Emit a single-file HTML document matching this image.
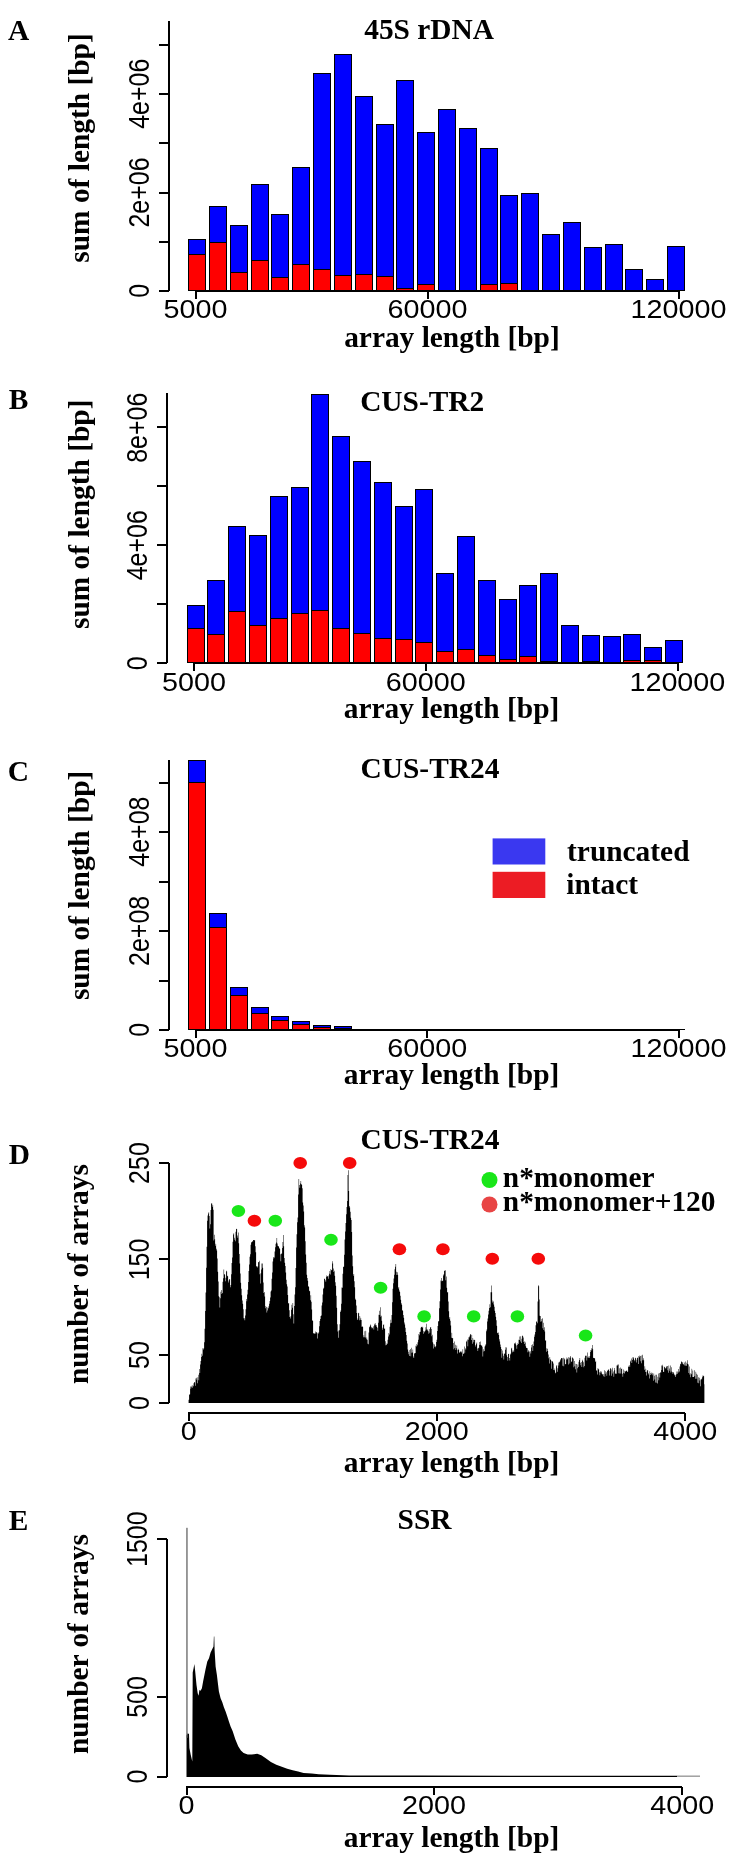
<!DOCTYPE html><html><head><meta charset="utf-8"><style>
html,body{margin:0;padding:0;background:#fff;}svg{display:block;will-change:transform;}
text.s{font-family:"Liberation Serif",serif;font-weight:bold;fill:#000;}
text.n{font-family:"Liberation Sans",sans-serif;font-size:25px;fill:#000;}
line{stroke:#000;stroke-width:2;shape-rendering:crispEdges;}
line.bl{stroke-width:1.1;}
rect.bar{stroke:#000;stroke-width:1;shape-rendering:crispEdges;}
</style></head><body>
<svg width="734" height="1864" viewBox="0 0 734 1864">
<rect x="0" y="0" width="734" height="1864" fill="#fff"/>
<text class="s" style="font-size:29.4px" x="7.9" y="40.3">A</text>
<text class="s" style="font-size:29.4px" x="364.2" y="39.2">45S rDNA</text>
<text class="s" style="font-size:29.4px" transform="translate(88.9,262.73) rotate(-90)">sum of length [bp]</text>
<rect x="188" y="239" width="18" height="52" fill="#000"/>
<rect x="189" y="240" width="16" height="14" fill="#0000ff"/>
<rect x="189" y="255" width="16" height="35" fill="#ff0000"/>
<rect x="209" y="206" width="18" height="85" fill="#000"/>
<rect x="210" y="207" width="16" height="35" fill="#0000ff"/>
<rect x="210" y="243" width="16" height="47" fill="#ff0000"/>
<rect x="230" y="225" width="18" height="66" fill="#000"/>
<rect x="231" y="226" width="16" height="46" fill="#0000ff"/>
<rect x="231" y="273" width="16" height="17" fill="#ff0000"/>
<rect x="251" y="184" width="18" height="107" fill="#000"/>
<rect x="252" y="185" width="16" height="75" fill="#0000ff"/>
<rect x="252" y="261" width="16" height="29" fill="#ff0000"/>
<rect x="271" y="214" width="18" height="77" fill="#000"/>
<rect x="272" y="215" width="16" height="62" fill="#0000ff"/>
<rect x="272" y="278" width="16" height="12" fill="#ff0000"/>
<rect x="292" y="167" width="18" height="124" fill="#000"/>
<rect x="293" y="168" width="16" height="96" fill="#0000ff"/>
<rect x="293" y="265" width="16" height="25" fill="#ff0000"/>
<rect x="313" y="73" width="18" height="218" fill="#000"/>
<rect x="314" y="74" width="16" height="195" fill="#0000ff"/>
<rect x="314" y="270" width="16" height="20" fill="#ff0000"/>
<rect x="334" y="54" width="18" height="237" fill="#000"/>
<rect x="335" y="55" width="16" height="220" fill="#0000ff"/>
<rect x="335" y="276" width="16" height="14" fill="#ff0000"/>
<rect x="355" y="96" width="18" height="195" fill="#000"/>
<rect x="356" y="97" width="16" height="177" fill="#0000ff"/>
<rect x="356" y="275" width="16" height="15" fill="#ff0000"/>
<rect x="376" y="124" width="18" height="167" fill="#000"/>
<rect x="377" y="125" width="16" height="151" fill="#0000ff"/>
<rect x="377" y="277" width="16" height="13" fill="#ff0000"/>
<rect x="396" y="80" width="18" height="211" fill="#000"/>
<rect x="397" y="81" width="16" height="207" fill="#0000ff"/>
<rect x="397" y="289" width="16" height="1" fill="#ff0000"/>
<rect x="417" y="132" width="18" height="159" fill="#000"/>
<rect x="418" y="133" width="16" height="151" fill="#0000ff"/>
<rect x="418" y="285" width="16" height="5" fill="#ff0000"/>
<rect x="438" y="109" width="18" height="182" fill="#000"/>
<rect x="439" y="110" width="16" height="180" fill="#0000ff"/>
<rect x="459" y="128" width="18" height="163" fill="#000"/>
<rect x="460" y="129" width="16" height="161" fill="#0000ff"/>
<rect x="480" y="148" width="18" height="143" fill="#000"/>
<rect x="481" y="149" width="16" height="135" fill="#0000ff"/>
<rect x="481" y="285" width="16" height="5" fill="#ff0000"/>
<rect x="500" y="195" width="18" height="96" fill="#000"/>
<rect x="501" y="196" width="16" height="87" fill="#0000ff"/>
<rect x="501" y="284" width="16" height="6" fill="#ff0000"/>
<rect x="521" y="193" width="18" height="98" fill="#000"/>
<rect x="522" y="194" width="16" height="96" fill="#0000ff"/>
<rect x="542" y="234" width="18" height="57" fill="#000"/>
<rect x="543" y="235" width="16" height="55" fill="#0000ff"/>
<rect x="563" y="222" width="18" height="69" fill="#000"/>
<rect x="564" y="223" width="16" height="67" fill="#0000ff"/>
<rect x="584" y="247" width="18" height="44" fill="#000"/>
<rect x="585" y="248" width="16" height="42" fill="#0000ff"/>
<rect x="605" y="244" width="18" height="47" fill="#000"/>
<rect x="606" y="245" width="16" height="45" fill="#0000ff"/>
<rect x="625" y="269" width="18" height="22" fill="#000"/>
<rect x="626" y="270" width="16" height="20" fill="#0000ff"/>
<rect x="646" y="279" width="18" height="12" fill="#000"/>
<rect x="647" y="280" width="16" height="10" fill="#0000ff"/>
<rect x="667" y="246" width="18" height="45" fill="#000"/>
<rect x="668" y="247" width="16" height="43" fill="#0000ff"/>
<line x1="169" y1="20.6" x2="169" y2="291" />
<line x1="159" y1="291" x2="169" y2="291" />
<line x1="159" y1="241.8" x2="169" y2="241.8" />
<line x1="159" y1="192.6" x2="169" y2="192.6" />
<line x1="159" y1="143.4" x2="169" y2="143.4" />
<line x1="159" y1="94.2" x2="169" y2="94.2" />
<line x1="159" y1="45" x2="169" y2="45" />
<text class="n" transform="translate(148.8,297.78) scale(1.15,1) rotate(-90)">0</text>
<text class="n" transform="translate(148.8,227.57) scale(1.15,1) rotate(-90)">2e+06</text>
<text class="n" transform="translate(148.8,128.82) scale(1.15,1) rotate(-90)">4e+06</text>
<rect x="188" y="290" width="497" height="1" fill="#000"/>
<line x1="195.6" y1="291" x2="679" y2="291" />
<line x1="195.6" y1="291" x2="195.6" y2="299" />
<line x1="427.6" y1="291" x2="427.6" y2="299" />
<line x1="679" y1="291" x2="679" y2="299" />
<text class="n" transform="translate(163.6,318.4) scale(1.15,1)">5000</text>
<text class="n" transform="translate(387.47,318.4) scale(1.15,1)">60000</text>
<text class="n" transform="translate(630.5,318.4) scale(1.15,1)">120000</text>
<text class="s" style="font-size:29.4px" x="344.15" y="346.6">array length [bp]</text>
<text class="s" style="font-size:29.4px" x="8.8" y="409">B</text>
<text class="s" style="font-size:29.4px" x="360.15" y="410.5">CUS-TR2</text>
<text class="s" style="font-size:29.4px" transform="translate(89,629.02) rotate(-90)">sum of length [bp]</text>
<rect x="187" y="605" width="18" height="58" fill="#000"/>
<rect x="188" y="606" width="16" height="22" fill="#0000ff"/>
<rect x="188" y="629" width="16" height="33" fill="#ff0000"/>
<rect x="207" y="580" width="18" height="83" fill="#000"/>
<rect x="208" y="581" width="16" height="53" fill="#0000ff"/>
<rect x="208" y="635" width="16" height="27" fill="#ff0000"/>
<rect x="228" y="526" width="18" height="137" fill="#000"/>
<rect x="229" y="527" width="16" height="84" fill="#0000ff"/>
<rect x="229" y="612" width="16" height="50" fill="#ff0000"/>
<rect x="249" y="535" width="18" height="128" fill="#000"/>
<rect x="250" y="536" width="16" height="89" fill="#0000ff"/>
<rect x="250" y="626" width="16" height="36" fill="#ff0000"/>
<rect x="270" y="496" width="18" height="167" fill="#000"/>
<rect x="271" y="497" width="16" height="121" fill="#0000ff"/>
<rect x="271" y="619" width="16" height="43" fill="#ff0000"/>
<rect x="291" y="487" width="18" height="176" fill="#000"/>
<rect x="292" y="488" width="16" height="125" fill="#0000ff"/>
<rect x="292" y="614" width="16" height="48" fill="#ff0000"/>
<rect x="311" y="394" width="18" height="269" fill="#000"/>
<rect x="312" y="395" width="16" height="215" fill="#0000ff"/>
<rect x="312" y="611" width="16" height="51" fill="#ff0000"/>
<rect x="332" y="436" width="18" height="227" fill="#000"/>
<rect x="333" y="437" width="16" height="191" fill="#0000ff"/>
<rect x="333" y="629" width="16" height="33" fill="#ff0000"/>
<rect x="353" y="461" width="18" height="202" fill="#000"/>
<rect x="354" y="462" width="16" height="171" fill="#0000ff"/>
<rect x="354" y="634" width="16" height="28" fill="#ff0000"/>
<rect x="374" y="482" width="18" height="181" fill="#000"/>
<rect x="375" y="483" width="16" height="155" fill="#0000ff"/>
<rect x="375" y="639" width="16" height="23" fill="#ff0000"/>
<rect x="395" y="506" width="18" height="157" fill="#000"/>
<rect x="396" y="507" width="16" height="132" fill="#0000ff"/>
<rect x="396" y="640" width="16" height="22" fill="#ff0000"/>
<rect x="415" y="489" width="18" height="174" fill="#000"/>
<rect x="416" y="490" width="16" height="152" fill="#0000ff"/>
<rect x="416" y="643" width="16" height="19" fill="#ff0000"/>
<rect x="436" y="573" width="18" height="90" fill="#000"/>
<rect x="437" y="574" width="16" height="77" fill="#0000ff"/>
<rect x="437" y="652" width="16" height="10" fill="#ff0000"/>
<rect x="457" y="536" width="18" height="127" fill="#000"/>
<rect x="458" y="537" width="16" height="112" fill="#0000ff"/>
<rect x="458" y="650" width="16" height="12" fill="#ff0000"/>
<rect x="478" y="580" width="18" height="83" fill="#000"/>
<rect x="479" y="581" width="16" height="74" fill="#0000ff"/>
<rect x="479" y="656" width="16" height="6" fill="#ff0000"/>
<rect x="499" y="599" width="18" height="64" fill="#000"/>
<rect x="500" y="600" width="16" height="59" fill="#0000ff"/>
<rect x="500" y="660" width="16" height="2" fill="#ff0000"/>
<rect x="519" y="585" width="18" height="78" fill="#000"/>
<rect x="520" y="586" width="16" height="70" fill="#0000ff"/>
<rect x="520" y="657" width="16" height="5" fill="#ff0000"/>
<rect x="540" y="573" width="18" height="90" fill="#000"/>
<rect x="541" y="574" width="16" height="87" fill="#0000ff"/>
<rect x="561" y="625" width="18" height="38" fill="#000"/>
<rect x="562" y="626" width="16" height="36" fill="#0000ff"/>
<rect x="582" y="635" width="18" height="28" fill="#000"/>
<rect x="583" y="636" width="16" height="25" fill="#0000ff"/>
<rect x="603" y="636" width="18" height="27" fill="#000"/>
<rect x="604" y="637" width="16" height="25" fill="#0000ff"/>
<rect x="623" y="634" width="18" height="29" fill="#000"/>
<rect x="624" y="635" width="16" height="25" fill="#0000ff"/>
<rect x="624" y="661" width="16" height="1" fill="#ff0000"/>
<rect x="644" y="647" width="18" height="16" fill="#000"/>
<rect x="645" y="648" width="16" height="12" fill="#0000ff"/>
<rect x="645" y="661" width="16" height="1" fill="#ff0000"/>
<rect x="665" y="640" width="18" height="23" fill="#000"/>
<rect x="666" y="641" width="16" height="21" fill="#0000ff"/>
<line x1="167" y1="393.2" x2="167" y2="663" />
<line x1="157" y1="663" x2="167" y2="663" />
<line x1="157" y1="604.1" x2="167" y2="604.1" />
<line x1="157" y1="545.2" x2="167" y2="545.2" />
<line x1="157" y1="486.3" x2="167" y2="486.3" />
<line x1="157" y1="427.4" x2="167" y2="427.4" />
<text class="n" transform="translate(146.8,670.27) scale(1.15,1) rotate(-90)">0</text>
<text class="n" transform="translate(146.8,580.33) scale(1.15,1) rotate(-90)">4e+06</text>
<text class="n" transform="translate(146.8,462.8) scale(1.15,1) rotate(-90)">8e+06</text>
<rect x="187" y="662" width="496" height="1" fill="#000"/>
<line x1="194.1" y1="663" x2="677.9" y2="663" />
<line x1="194.1" y1="663" x2="194.1" y2="671" />
<line x1="426" y1="663" x2="426" y2="671" />
<line x1="677.9" y1="663" x2="677.9" y2="671" />
<text class="n" transform="translate(162.1,690.5) scale(1.15,1)">5000</text>
<text class="n" transform="translate(385.87,690.5) scale(1.15,1)">60000</text>
<text class="n" transform="translate(629.4,690.5) scale(1.15,1)">120000</text>
<text class="s" style="font-size:29.4px" x="343.75" y="717.9">array length [bp]</text>
<text class="s" style="font-size:29.4px" x="7.85" y="781.3">C</text>
<text class="s" style="font-size:29.4px" x="360.55" y="777.6">CUS-TR24</text>
<text class="s" style="font-size:29.4px" transform="translate(89,1000.12) rotate(-90)">sum of length [bp]</text>
<rect x="188" y="760" width="18" height="270" fill="#000"/>
<rect x="189" y="761" width="16" height="21" fill="#0000ff"/>
<rect x="189" y="783" width="16" height="246" fill="#ff0000"/>
<rect x="209" y="913" width="18" height="117" fill="#000"/>
<rect x="210" y="914" width="16" height="13" fill="#0000ff"/>
<rect x="210" y="928" width="16" height="101" fill="#ff0000"/>
<rect x="230" y="987" width="18" height="43" fill="#000"/>
<rect x="231" y="988" width="16" height="7" fill="#0000ff"/>
<rect x="231" y="996" width="16" height="33" fill="#ff0000"/>
<rect x="251" y="1007" width="18" height="23" fill="#000"/>
<rect x="252" y="1008" width="16" height="5" fill="#0000ff"/>
<rect x="252" y="1014" width="16" height="15" fill="#ff0000"/>
<rect x="271" y="1016" width="18" height="14" fill="#000"/>
<rect x="272" y="1017" width="16" height="3" fill="#0000ff"/>
<rect x="272" y="1021" width="16" height="8" fill="#ff0000"/>
<rect x="292" y="1021" width="18" height="9" fill="#000"/>
<rect x="293" y="1022" width="16" height="2" fill="#0000ff"/>
<rect x="293" y="1025" width="16" height="4" fill="#ff0000"/>
<rect x="313" y="1025" width="18" height="5" fill="#000"/>
<rect x="314" y="1026" width="16" height="1" fill="#0000ff"/>
<rect x="314" y="1028" width="16" height="1" fill="#ff0000"/>
<rect x="334" y="1026" width="18" height="4" fill="#000"/>
<rect x="335" y="1027" width="16" height="1" fill="#0000ff"/>
<line x1="169" y1="759.5" x2="169" y2="1030" />
<line x1="159" y1="1030" x2="169" y2="1030" />
<line x1="159" y1="980.55" x2="169" y2="980.55" />
<line x1="159" y1="931.1" x2="169" y2="931.1" />
<line x1="159" y1="881.65" x2="169" y2="881.65" />
<line x1="159" y1="832.2" x2="169" y2="832.2" />
<line x1="159" y1="782.75" x2="169" y2="782.75" />
<text class="n" transform="translate(148.8,1036.67) scale(1.15,1) rotate(-90)">0</text>
<text class="n" transform="translate(148.8,965.98) scale(1.15,1) rotate(-90)">2e+08</text>
<text class="n" transform="translate(148.8,866.73) scale(1.15,1) rotate(-90)">4e+08</text>
<rect x="188" y="1029" width="497" height="1" fill="#000"/>
<line x1="195.6" y1="1030" x2="679" y2="1030" />
<line x1="195.6" y1="1030" x2="195.6" y2="1038" />
<line x1="427.4" y1="1030" x2="427.4" y2="1038" />
<line x1="679" y1="1030" x2="679" y2="1038" />
<text class="n" transform="translate(163.6,1056.6) scale(1.15,1)">5000</text>
<text class="n" transform="translate(387.26,1056.6) scale(1.15,1)">60000</text>
<text class="n" transform="translate(630.5,1056.6) scale(1.15,1)">120000</text>
<text class="s" style="font-size:29.4px" x="343.75" y="1083.9">array length [bp]</text>
<rect x="492.6" y="838.4" width="52.7" height="26.1" fill="#3a38f0"/>
<rect x="492.6" y="871.8" width="52.7" height="26.2" fill="#ec1c24"/>
<text class="s" style="font-size:29.4px" x="567.05" y="860.9">truncated</text>
<text class="s" style="font-size:29.4px" x="566.25" y="893.8">intact</text>
<text class="s" style="font-size:29.4px" x="8.8" y="1163.6">D</text>
<text class="s" style="font-size:29.4px" x="360.55" y="1148.7">CUS-TR24</text>
<text class="s" style="font-size:29.4px" transform="translate(87.9,1384) rotate(-90)">number of arrays</text>
<path d="M188.6,1399.76h0.5V1403h-0.5ZM189.1,1394.86h0.5V1403h-0.5ZM189.6,1394.3h0.5V1403h-0.5ZM190.1,1386.53h0.5V1403h-0.5ZM190.6,1388.82h0.5V1403h-0.5ZM191.1,1387.19h0.5V1403h-0.5ZM191.6,1385.76h0.5V1403h-0.5ZM192.1,1387.8h0.5V1403h-0.5ZM192.6,1385.25h0.5V1403h-0.5ZM193.1,1386.21h0.5V1403h-0.5ZM193.6,1383.31h0.5V1403h-0.5ZM194.1,1382.09h0.5V1403h-0.5ZM194.6,1382.39h0.5V1403h-0.5ZM195.1,1385.67h0.5V1403h-0.5ZM195.6,1378.41h0.5V1403h-0.5ZM196.1,1377.69h0.5V1403h-0.5ZM196.6,1379.78h0.5V1403h-0.5ZM197.1,1383.32h0.5V1403h-0.5ZM197.6,1377.24h0.5V1403h-0.5ZM198.1,1374.66h0.5V1403h-0.5ZM198.6,1380.31h0.5V1403h-0.5ZM199.1,1369.08h0.5V1403h-0.5ZM199.6,1373.03h0.5V1403h-0.5ZM200.1,1364.49h0.5V1403h-0.5ZM200.6,1361.09h0.5V1403h-0.5ZM201.1,1357.03h0.5V1403h-0.5ZM201.6,1353.76h0.5V1403h-0.5ZM202.1,1355.67h0.5V1403h-0.5ZM202.6,1348.3h0.5V1403h-0.5ZM203.1,1349.39h0.5V1403h-0.5ZM203.6,1348.35h0.5V1403h-0.5ZM204.1,1342.28h0.5V1403h-0.5ZM204.6,1328.73h0.5V1403h-0.5ZM205.1,1311.07h0.5V1403h-0.5ZM205.6,1292.47h0.5V1403h-0.5ZM206.1,1267.82h0.5V1403h-0.5ZM206.6,1246.77h0.5V1403h-0.5ZM207.1,1220.72h0.5V1403h-0.5ZM207.6,1215.59h0.5V1403h-0.5ZM208.1,1213.41h0.5V1403h-0.5ZM208.6,1212.18h0.5V1403h-0.5ZM209.1,1216.03h0.5V1403h-0.5ZM209.6,1228.4h0.5V1403h-0.5ZM210.1,1224.28h0.5V1403h-0.5ZM210.6,1209.92h0.5V1403h-0.5ZM211.1,1203.87h0.5V1403h-0.5ZM211.6,1202.88h0.5V1403h-0.5ZM212.1,1206.79h0.5V1403h-0.5ZM212.6,1204.69h0.5V1403h-0.5ZM213.1,1209.83h0.5V1403h-0.5ZM213.6,1240.38h0.5V1403h-0.5ZM214.1,1234.86h0.5V1403h-0.5ZM214.6,1239.31h0.5V1403h-0.5ZM215.1,1245.86h0.5V1403h-0.5ZM215.6,1243.77h0.5V1403h-0.5ZM216.1,1248.81h0.5V1403h-0.5ZM216.6,1250.43h0.5V1403h-0.5ZM217.1,1258.54h0.5V1403h-0.5ZM217.6,1271.78h0.5V1403h-0.5ZM218.1,1281.48h0.5V1403h-0.5ZM218.6,1296.15h0.5V1403h-0.5ZM219.1,1297.14h0.5V1403h-0.5ZM219.6,1307.57h0.5V1403h-0.5ZM220.1,1298.27h0.5V1403h-0.5ZM220.6,1291.77h0.5V1403h-0.5ZM221.1,1290.12h0.5V1403h-0.5ZM221.6,1294.1h0.5V1403h-0.5ZM222.1,1293.1h0.5V1403h-0.5ZM222.6,1281.67h0.5V1403h-0.5ZM223.1,1278.2h0.5V1403h-0.5ZM223.6,1269.52h0.5V1403h-0.5ZM224.1,1273.91h0.5V1403h-0.5ZM224.6,1274.75h0.5V1403h-0.5ZM225.1,1281.36h0.5V1403h-0.5ZM225.6,1277.64h0.5V1403h-0.5ZM226.1,1270.79h0.5V1403h-0.5ZM226.6,1271.4h0.5V1403h-0.5ZM227.1,1275.69h0.5V1403h-0.5ZM227.6,1276.17h0.5V1403h-0.5ZM228.1,1282.59h0.5V1403h-0.5ZM228.6,1280.42h0.5V1403h-0.5ZM229.1,1279.29h0.5V1403h-0.5ZM229.6,1279.19h0.5V1403h-0.5ZM230.1,1287.23h0.5V1403h-0.5ZM230.6,1285.07h0.5V1403h-0.5ZM231.1,1274.22h0.5V1403h-0.5ZM231.6,1263.05h0.5V1403h-0.5ZM232.1,1257.59h0.5V1403h-0.5ZM232.6,1241.81h0.5V1403h-0.5ZM233.1,1234.57h0.5V1403h-0.5ZM233.6,1233.32h0.5V1403h-0.5ZM234.1,1237.63h0.5V1403h-0.5ZM234.6,1239.65h0.5V1403h-0.5ZM235.1,1241.24h0.5V1403h-0.5ZM235.6,1231.72h0.5V1403h-0.5ZM236.1,1229.08h0.5V1403h-0.5ZM236.6,1228.68h0.5V1403h-0.5ZM237.1,1235.53h0.5V1403h-0.5ZM237.6,1237.75h0.5V1403h-0.5ZM238.1,1232.62h0.5V1403h-0.5ZM238.6,1243.2h0.5V1403h-0.5ZM239.1,1253.9h0.5V1403h-0.5ZM239.6,1263.51h0.5V1403h-0.5ZM240.1,1273.47h0.5V1403h-0.5ZM240.6,1282.81h0.5V1403h-0.5ZM241.1,1288.64h0.5V1403h-0.5ZM241.6,1295.28h0.5V1403h-0.5ZM242.1,1300.53h0.5V1403h-0.5ZM242.6,1303.84h0.5V1403h-0.5ZM243.1,1309.17h0.5V1403h-0.5ZM243.6,1318.14h0.5V1403h-0.5ZM244.1,1318.26h0.5V1403h-0.5ZM244.6,1320.36h0.5V1403h-0.5ZM245.1,1315.59h0.5V1403h-0.5ZM245.6,1309.27h0.5V1403h-0.5ZM246.1,1299.11h0.5V1403h-0.5ZM246.6,1301.37h0.5V1403h-0.5ZM247.1,1294.56h0.5V1403h-0.5ZM247.6,1289.84h0.5V1403h-0.5ZM248.1,1282.02h0.5V1403h-0.5ZM248.6,1271.01h0.5V1403h-0.5ZM249.1,1264.39h0.5V1403h-0.5ZM249.6,1256.72h0.5V1403h-0.5ZM250.1,1254.24h0.5V1403h-0.5ZM250.6,1244.65h0.5V1403h-0.5ZM251.1,1242.41h0.5V1403h-0.5ZM251.6,1242.1h0.5V1403h-0.5ZM252.1,1241.27h0.5V1403h-0.5ZM252.6,1241.41h0.5V1403h-0.5ZM253.1,1240.08h0.5V1403h-0.5ZM253.6,1240.05h0.5V1403h-0.5ZM254.1,1240.26h0.5V1403h-0.5ZM254.6,1240.14h0.5V1403h-0.5ZM255.1,1246.35h0.5V1403h-0.5ZM255.6,1252.17h0.5V1403h-0.5ZM256.1,1266.04h0.5V1403h-0.5ZM256.6,1266.73h0.5V1403h-0.5ZM257.1,1267.54h0.5V1403h-0.5ZM257.6,1266.13h0.5V1403h-0.5ZM258.1,1262.14h0.5V1403h-0.5ZM258.6,1261.91h0.5V1403h-0.5ZM259.1,1260.85h0.5V1403h-0.5ZM259.6,1274.2h0.5V1403h-0.5ZM260.1,1283.59h0.5V1403h-0.5ZM260.6,1273.37h0.5V1403h-0.5ZM261.1,1269.52h0.5V1403h-0.5ZM261.6,1263.48h0.5V1403h-0.5ZM262.1,1263.51h0.5V1403h-0.5ZM262.6,1267.85h0.5V1403h-0.5ZM263.1,1282.43h0.5V1403h-0.5ZM263.6,1293.04h0.5V1403h-0.5ZM264.1,1292.09h0.5V1403h-0.5ZM264.6,1296.56h0.5V1403h-0.5ZM265.1,1308.19h0.5V1403h-0.5ZM265.6,1306.06h0.5V1403h-0.5ZM266.1,1307.04h0.5V1403h-0.5ZM266.6,1312.5h0.5V1403h-0.5ZM267.1,1310.54h0.5V1403h-0.5ZM267.6,1307.54h0.5V1403h-0.5ZM268.1,1308.15h0.5V1403h-0.5ZM268.6,1306.17h0.5V1403h-0.5ZM269.1,1303.83h0.5V1403h-0.5ZM269.6,1301.08h0.5V1403h-0.5ZM270.1,1297.39h0.5V1403h-0.5ZM270.6,1291.44h0.5V1403h-0.5ZM271.1,1290.52h0.5V1403h-0.5ZM271.6,1278.71h0.5V1403h-0.5ZM272.1,1272.62h0.5V1403h-0.5ZM272.6,1261.47h0.5V1403h-0.5ZM273.1,1256.94h0.5V1403h-0.5ZM273.6,1258.42h0.5V1403h-0.5ZM274.1,1257.45h0.5V1403h-0.5ZM274.6,1251.6h0.5V1403h-0.5ZM275.1,1247.23h0.5V1403h-0.5ZM275.6,1243.75h0.5V1403h-0.5ZM276.1,1242.52h0.5V1403h-0.5ZM276.6,1238.06h0.5V1403h-0.5ZM277.1,1243.51h0.5V1403h-0.5ZM277.6,1245.73h0.5V1403h-0.5ZM278.1,1246.11h0.5V1403h-0.5ZM278.6,1246.77h0.5V1403h-0.5ZM279.1,1248.13h0.5V1403h-0.5ZM279.6,1248.7h0.5V1403h-0.5ZM280.1,1254.3h0.5V1403h-0.5ZM280.6,1261.22h0.5V1403h-0.5ZM281.1,1253.86h0.5V1403h-0.5ZM281.6,1253.5h0.5V1403h-0.5ZM282.1,1247.92h0.5V1403h-0.5ZM282.6,1242.04h0.5V1403h-0.5ZM283.1,1235.03h0.5V1403h-0.5ZM283.6,1246.14h0.5V1403h-0.5ZM284.1,1258.04h0.5V1403h-0.5ZM284.6,1262.7h0.5V1403h-0.5ZM285.1,1266.06h0.5V1403h-0.5ZM285.6,1272.52h0.5V1403h-0.5ZM286.1,1279.64h0.5V1403h-0.5ZM286.6,1284.2h0.5V1403h-0.5ZM287.1,1286.58h0.5V1403h-0.5ZM287.6,1295.01h0.5V1403h-0.5ZM288.1,1303.6h0.5V1403h-0.5ZM288.6,1303.03h0.5V1403h-0.5ZM289.1,1310.22h0.5V1403h-0.5ZM289.6,1317.08h0.5V1403h-0.5ZM290.1,1318.47h0.5V1403h-0.5ZM290.6,1316.16h0.5V1403h-0.5ZM291.1,1309.82h0.5V1403h-0.5ZM291.6,1304.72h0.5V1403h-0.5ZM292.1,1307.64h0.5V1403h-0.5ZM292.6,1303.03h0.5V1403h-0.5ZM293.1,1314.31h0.5V1403h-0.5ZM293.6,1323.53h0.5V1403h-0.5ZM294.1,1305.94h0.5V1403h-0.5ZM294.6,1294.48h0.5V1403h-0.5ZM295.1,1287.27h0.5V1403h-0.5ZM295.6,1267.93h0.5V1403h-0.5ZM296.1,1247.46h0.5V1403h-0.5ZM296.6,1234.26h0.5V1403h-0.5ZM297.1,1222.32h0.5V1403h-0.5ZM297.6,1217.48h0.5V1403h-0.5ZM298.1,1194.59h0.5V1403h-0.5ZM298.6,1179.06h0.5V1403h-0.5ZM299.1,1185.01h0.5V1403h-0.5ZM299.6,1187.85h0.5V1403h-0.5ZM300.1,1183.42h0.5V1403h-0.5ZM300.6,1180.97h0.5V1403h-0.5ZM301.1,1184.04h0.5V1403h-0.5ZM301.6,1184.99h0.5V1403h-0.5ZM302.1,1188.34h0.5V1403h-0.5ZM302.6,1202.6h0.5V1403h-0.5ZM303.1,1205.41h0.5V1403h-0.5ZM303.6,1211.61h0.5V1403h-0.5ZM304.1,1225.24h0.5V1403h-0.5ZM304.6,1227.59h0.5V1403h-0.5ZM305.1,1241.23h0.5V1403h-0.5ZM305.6,1254.49h0.5V1403h-0.5ZM306.1,1262.74h0.5V1403h-0.5ZM306.6,1274.7h0.5V1403h-0.5ZM307.1,1277.9h0.5V1403h-0.5ZM307.6,1280.65h0.5V1403h-0.5ZM308.1,1286.22h0.5V1403h-0.5ZM308.6,1286.73h0.5V1403h-0.5ZM309.1,1290.71h0.5V1403h-0.5ZM309.6,1291.35h0.5V1403h-0.5ZM310.1,1300.15h0.5V1403h-0.5ZM310.6,1295.32h0.5V1403h-0.5ZM311.1,1301.75h0.5V1403h-0.5ZM311.6,1309.42h0.5V1403h-0.5ZM312.1,1320.22h0.5V1403h-0.5ZM312.6,1320.95h0.5V1403h-0.5ZM313.1,1333.44h0.5V1403h-0.5ZM313.6,1333.03h0.5V1403h-0.5ZM314.1,1333.56h0.5V1403h-0.5ZM314.6,1333.74h0.5V1403h-0.5ZM315.1,1331.52h0.5V1403h-0.5ZM315.6,1333.51h0.5V1403h-0.5ZM316.1,1332.32h0.5V1403h-0.5ZM316.6,1332.33h0.5V1403h-0.5ZM317.1,1338.41h0.5V1403h-0.5ZM317.6,1333.26h0.5V1403h-0.5ZM318.1,1333.55h0.5V1403h-0.5ZM318.6,1332.26h0.5V1403h-0.5ZM319.1,1326.32h0.5V1403h-0.5ZM319.6,1320.95h0.5V1403h-0.5ZM320.1,1319.08h0.5V1403h-0.5ZM320.6,1316.11h0.5V1403h-0.5ZM321.1,1315.53h0.5V1403h-0.5ZM321.6,1305.51h0.5V1403h-0.5ZM322.1,1302.49h0.5V1403h-0.5ZM322.6,1294.47h0.5V1403h-0.5ZM323.1,1288.85h0.5V1403h-0.5ZM323.6,1287.78h0.5V1403h-0.5ZM324.1,1278.98h0.5V1403h-0.5ZM324.6,1278.53h0.5V1403h-0.5ZM325.1,1280.22h0.5V1403h-0.5ZM325.6,1281.85h0.5V1403h-0.5ZM326.1,1275.45h0.5V1403h-0.5ZM326.6,1277.06h0.5V1403h-0.5ZM327.1,1276.07h0.5V1403h-0.5ZM327.6,1276.47h0.5V1403h-0.5ZM328.1,1278.76h0.5V1403h-0.5ZM328.6,1275.43h0.5V1403h-0.5ZM329.1,1273.81h0.5V1403h-0.5ZM329.6,1270.98h0.5V1403h-0.5ZM330.1,1274.56h0.5V1403h-0.5ZM330.6,1269.04h0.5V1403h-0.5ZM331.1,1270.22h0.5V1403h-0.5ZM331.6,1269.96h0.5V1403h-0.5ZM332.1,1261.25h0.5V1403h-0.5ZM332.6,1263.41h0.5V1403h-0.5ZM333.1,1268.6h0.5V1403h-0.5ZM333.6,1271.94h0.5V1403h-0.5ZM334.1,1270.76h0.5V1403h-0.5ZM334.6,1275.72h0.5V1403h-0.5ZM335.1,1282.35h0.5V1403h-0.5ZM335.6,1285.64h0.5V1403h-0.5ZM336.1,1295.79h0.5V1403h-0.5ZM336.6,1307.82h0.5V1403h-0.5ZM337.1,1324.3h0.5V1403h-0.5ZM337.6,1331.62h0.5V1403h-0.5ZM338.1,1337.84h0.5V1403h-0.5ZM338.6,1330.4h0.5V1403h-0.5ZM339.1,1330.3h0.5V1403h-0.5ZM339.6,1324.13h0.5V1403h-0.5ZM340.1,1312.06h0.5V1403h-0.5ZM340.6,1310.55h0.5V1403h-0.5ZM341.1,1303.63h0.5V1403h-0.5ZM341.6,1287.38h0.5V1403h-0.5ZM342.1,1287.78h0.5V1403h-0.5ZM342.6,1273.71h0.5V1403h-0.5ZM343.1,1267.08h0.5V1403h-0.5ZM343.6,1266.43h0.5V1403h-0.5ZM344.1,1254.74h0.5V1403h-0.5ZM344.6,1239.4h0.5V1403h-0.5ZM345.1,1231.51h0.5V1403h-0.5ZM345.6,1222.9h0.5V1403h-0.5ZM346.1,1214.2h0.5V1403h-0.5ZM346.6,1207.01h0.5V1403h-0.5ZM347.1,1201.08h0.5V1403h-0.5ZM347.6,1174.99h0.5V1403h-0.5ZM348.1,1170.3h0.5V1403h-0.5ZM348.6,1190.92h0.5V1403h-0.5ZM349.1,1205.95h0.5V1403h-0.5ZM349.6,1207.54h0.5V1403h-0.5ZM350.1,1211.86h0.5V1403h-0.5ZM350.6,1217.71h0.5V1403h-0.5ZM351.1,1219.9h0.5V1403h-0.5ZM351.6,1231.88h0.5V1403h-0.5ZM352.1,1255.58h0.5V1403h-0.5ZM352.6,1266.18h0.5V1403h-0.5ZM353.1,1275.75h0.5V1403h-0.5ZM353.6,1274.02h0.5V1403h-0.5ZM354.1,1281.22h0.5V1403h-0.5ZM354.6,1287.26h0.5V1403h-0.5ZM355.1,1298.73h0.5V1403h-0.5ZM355.6,1299.93h0.5V1403h-0.5ZM356.1,1305.42h0.5V1403h-0.5ZM356.6,1312.88h0.5V1403h-0.5ZM357.1,1320.05h0.5V1403h-0.5ZM357.6,1318.61h0.5V1403h-0.5ZM358.1,1313.18h0.5V1403h-0.5ZM358.6,1312.78h0.5V1403h-0.5ZM359.1,1320.18h0.5V1403h-0.5ZM359.6,1315.98h0.5V1403h-0.5ZM360.1,1319.8h0.5V1403h-0.5ZM360.6,1317.79h0.5V1403h-0.5ZM361.1,1320.08h0.5V1403h-0.5ZM361.6,1326.65h0.5V1403h-0.5ZM362.1,1326.35h0.5V1403h-0.5ZM362.6,1327.1h0.5V1403h-0.5ZM363.1,1337.31h0.5V1403h-0.5ZM363.6,1335.34h0.5V1403h-0.5ZM364.1,1337.27h0.5V1403h-0.5ZM364.6,1331.22h0.5V1403h-0.5ZM365.1,1337.42h0.5V1403h-0.5ZM365.6,1330.86h0.5V1403h-0.5ZM366.1,1339.36h0.5V1403h-0.5ZM366.6,1337.51h0.5V1403h-0.5ZM367.1,1339.7h0.5V1403h-0.5ZM367.6,1343.83h0.5V1403h-0.5ZM368.1,1344.14h0.5V1403h-0.5ZM368.6,1332.39h0.5V1403h-0.5ZM369.1,1327.23h0.5V1403h-0.5ZM369.6,1326.61h0.5V1403h-0.5ZM370.1,1324.62h0.5V1403h-0.5ZM370.6,1325.55h0.5V1403h-0.5ZM371.1,1327.01h0.5V1403h-0.5ZM371.6,1328.13h0.5V1403h-0.5ZM372.1,1328.3h0.5V1403h-0.5ZM372.6,1327.56h0.5V1403h-0.5ZM373.1,1326.27h0.5V1403h-0.5ZM373.6,1329.38h0.5V1403h-0.5ZM374.1,1323.69h0.5V1403h-0.5ZM374.6,1325.19h0.5V1403h-0.5ZM375.1,1323.24h0.5V1403h-0.5ZM375.6,1325.22h0.5V1403h-0.5ZM376.1,1325.32h0.5V1403h-0.5ZM376.6,1327.06h0.5V1403h-0.5ZM377.1,1327.68h0.5V1403h-0.5ZM377.6,1330.63h0.5V1403h-0.5ZM378.1,1322.86h0.5V1403h-0.5ZM378.6,1314.78h0.5V1403h-0.5ZM379.1,1310.82h0.5V1403h-0.5ZM379.6,1314.99h0.5V1403h-0.5ZM380.1,1307.23h0.5V1403h-0.5ZM380.6,1316.67h0.5V1403h-0.5ZM381.1,1315.81h0.5V1403h-0.5ZM381.6,1320.81h0.5V1403h-0.5ZM382.1,1329.87h0.5V1403h-0.5ZM382.6,1327.7h0.5V1403h-0.5ZM383.1,1325.12h0.5V1403h-0.5ZM383.6,1324.32h0.5V1403h-0.5ZM384.1,1328.75h0.5V1403h-0.5ZM384.6,1328.62h0.5V1403h-0.5ZM385.1,1341.3h0.5V1403h-0.5ZM385.6,1345.15h0.5V1403h-0.5ZM386.1,1344.96h0.5V1403h-0.5ZM386.6,1343.46h0.5V1403h-0.5ZM387.1,1343.74h0.5V1403h-0.5ZM387.6,1339.63h0.5V1403h-0.5ZM388.1,1336.43h0.5V1403h-0.5ZM388.6,1332.99h0.5V1403h-0.5ZM389.1,1334.55h0.5V1403h-0.5ZM389.6,1326.86h0.5V1403h-0.5ZM390.1,1323.18h0.5V1403h-0.5ZM390.6,1319.67h0.5V1403h-0.5ZM391.1,1322.64h0.5V1403h-0.5ZM391.6,1314.91h0.5V1403h-0.5ZM392.1,1302.14h0.5V1403h-0.5ZM392.6,1288.81h0.5V1403h-0.5ZM393.1,1283.31h0.5V1403h-0.5ZM393.6,1278.55h0.5V1403h-0.5ZM394.1,1274.83h0.5V1403h-0.5ZM394.6,1269.15h0.5V1403h-0.5ZM395.1,1266.72h0.5V1403h-0.5ZM395.6,1264.07h0.5V1403h-0.5ZM396.1,1271.77h0.5V1403h-0.5ZM396.6,1274.96h0.5V1403h-0.5ZM397.1,1272.14h0.5V1403h-0.5ZM397.6,1274.69h0.5V1403h-0.5ZM398.1,1288.54h0.5V1403h-0.5ZM398.6,1287.01h0.5V1403h-0.5ZM399.1,1290.56h0.5V1403h-0.5ZM399.6,1291.92h0.5V1403h-0.5ZM400.1,1295.73h0.5V1403h-0.5ZM400.6,1299.77h0.5V1403h-0.5ZM401.1,1303.35h0.5V1403h-0.5ZM401.6,1304.78h0.5V1403h-0.5ZM402.1,1310.04h0.5V1403h-0.5ZM402.6,1311.08h0.5V1403h-0.5ZM403.1,1315.04h0.5V1403h-0.5ZM403.6,1317.82h0.5V1403h-0.5ZM404.1,1322.52h0.5V1403h-0.5ZM404.6,1324.43h0.5V1403h-0.5ZM405.1,1327.75h0.5V1403h-0.5ZM405.6,1331.91h0.5V1403h-0.5ZM406.1,1334.9h0.5V1403h-0.5ZM406.6,1340.83h0.5V1403h-0.5ZM407.1,1343.6h0.5V1403h-0.5ZM407.6,1349.48h0.5V1403h-0.5ZM408.1,1351.64h0.5V1403h-0.5ZM408.6,1354.22h0.5V1403h-0.5ZM409.1,1356.06h0.5V1403h-0.5ZM409.6,1349.97h0.5V1403h-0.5ZM410.1,1349.06h0.5V1403h-0.5ZM410.6,1356.33h0.5V1403h-0.5ZM411.1,1347.81h0.5V1403h-0.5ZM411.6,1352.67h0.5V1403h-0.5ZM412.1,1352.42h0.5V1403h-0.5ZM412.6,1349.47h0.5V1403h-0.5ZM413.1,1356.48h0.5V1403h-0.5ZM413.6,1358.11h0.5V1403h-0.5ZM414.1,1353.52h0.5V1403h-0.5ZM414.6,1353.33h0.5V1403h-0.5ZM415.1,1352.92h0.5V1403h-0.5ZM415.6,1345.66h0.5V1403h-0.5ZM416.1,1346.45h0.5V1403h-0.5ZM416.6,1344.12h0.5V1403h-0.5ZM417.1,1345.36h0.5V1403h-0.5ZM417.6,1342.16h0.5V1403h-0.5ZM418.1,1339.73h0.5V1403h-0.5ZM418.6,1333.9h0.5V1403h-0.5ZM419.1,1335.26h0.5V1403h-0.5ZM419.6,1331.88h0.5V1403h-0.5ZM420.1,1331.76h0.5V1403h-0.5ZM420.6,1327.66h0.5V1403h-0.5ZM421.1,1326.94h0.5V1403h-0.5ZM421.6,1326.84h0.5V1403h-0.5ZM422.1,1327.85h0.5V1403h-0.5ZM422.6,1326.86h0.5V1403h-0.5ZM423.1,1333.72h0.5V1403h-0.5ZM423.6,1330.9h0.5V1403h-0.5ZM424.1,1332.31h0.5V1403h-0.5ZM424.6,1331.27h0.5V1403h-0.5ZM425.1,1330.58h0.5V1403h-0.5ZM425.6,1327.23h0.5V1403h-0.5ZM426.1,1323.74h0.5V1403h-0.5ZM426.6,1329.47h0.5V1403h-0.5ZM427.1,1330.42h0.5V1403h-0.5ZM427.6,1329.33h0.5V1403h-0.5ZM428.1,1331.3h0.5V1403h-0.5ZM428.6,1333.81h0.5V1403h-0.5ZM429.1,1328.94h0.5V1403h-0.5ZM429.6,1332.78h0.5V1403h-0.5ZM430.1,1327.47h0.5V1403h-0.5ZM430.6,1326.95h0.5V1403h-0.5ZM431.1,1329.03h0.5V1403h-0.5ZM431.6,1336.18h0.5V1403h-0.5ZM432.1,1334.77h0.5V1403h-0.5ZM432.6,1342.32h0.5V1403h-0.5ZM433.1,1348.38h0.5V1403h-0.5ZM433.6,1343.67h0.5V1403h-0.5ZM434.1,1344.46h0.5V1403h-0.5ZM434.6,1346.87h0.5V1403h-0.5ZM435.1,1347.32h0.5V1403h-0.5ZM435.6,1346.08h0.5V1403h-0.5ZM436.1,1341.88h0.5V1403h-0.5ZM436.6,1339.64h0.5V1403h-0.5ZM437.1,1330.98h0.5V1403h-0.5ZM437.6,1326.12h0.5V1403h-0.5ZM438.1,1321.51h0.5V1403h-0.5ZM438.6,1320.9h0.5V1403h-0.5ZM439.1,1308.21h0.5V1403h-0.5ZM439.6,1301.28h0.5V1403h-0.5ZM440.1,1289.38h0.5V1403h-0.5ZM440.6,1280.41h0.5V1403h-0.5ZM441.1,1278.12h0.5V1403h-0.5ZM441.6,1281.2h0.5V1403h-0.5ZM442.1,1281.12h0.5V1403h-0.5ZM442.6,1280.58h0.5V1403h-0.5ZM443.1,1275.52h0.5V1403h-0.5ZM443.6,1274.16h0.5V1403h-0.5ZM444.1,1270.7h0.5V1403h-0.5ZM444.6,1270.71h0.5V1403h-0.5ZM445.1,1270.26h0.5V1403h-0.5ZM445.6,1280.32h0.5V1403h-0.5ZM446.1,1276.49h0.5V1403h-0.5ZM446.6,1287.74h0.5V1403h-0.5ZM447.1,1292.48h0.5V1403h-0.5ZM447.6,1292.09h0.5V1403h-0.5ZM448.1,1301.49h0.5V1403h-0.5ZM448.6,1311.25h0.5V1403h-0.5ZM449.1,1318.63h0.5V1403h-0.5ZM449.6,1317.02h0.5V1403h-0.5ZM450.1,1320.85h0.5V1403h-0.5ZM450.6,1325.6h0.5V1403h-0.5ZM451.1,1337.83h0.5V1403h-0.5ZM451.6,1332.85h0.5V1403h-0.5ZM452.1,1338.16h0.5V1403h-0.5ZM452.6,1337.97h0.5V1403h-0.5ZM453.1,1342.92h0.5V1403h-0.5ZM453.6,1349.13h0.5V1403h-0.5ZM454.1,1341.62h0.5V1403h-0.5ZM454.6,1348.02h0.5V1403h-0.5ZM455.1,1344.79h0.5V1403h-0.5ZM455.6,1350.04h0.5V1403h-0.5ZM456.1,1348.23h0.5V1403h-0.5ZM456.6,1345.51h0.5V1403h-0.5ZM457.1,1353.53h0.5V1403h-0.5ZM457.6,1349.65h0.5V1403h-0.5ZM458.1,1348.78h0.5V1403h-0.5ZM458.6,1350.03h0.5V1403h-0.5ZM459.1,1352.62h0.5V1403h-0.5ZM459.6,1352.52h0.5V1403h-0.5ZM460.1,1351.76h0.5V1403h-0.5ZM460.6,1351.37h0.5V1403h-0.5ZM461.1,1352.5h0.5V1403h-0.5ZM461.6,1351.58h0.5V1403h-0.5ZM462.1,1356.29h0.5V1403h-0.5ZM462.6,1349.18h0.5V1403h-0.5ZM463.1,1353.51h0.5V1403h-0.5ZM463.6,1354.02h0.5V1403h-0.5ZM464.1,1346.62h0.5V1403h-0.5ZM464.6,1352.82h0.5V1403h-0.5ZM465.1,1348.27h0.5V1403h-0.5ZM465.6,1349.61h0.5V1403h-0.5ZM466.1,1341.65h0.5V1403h-0.5ZM466.6,1340.74h0.5V1403h-0.5ZM467.1,1339.48h0.5V1403h-0.5ZM467.6,1346.25h0.5V1403h-0.5ZM468.1,1339.83h0.5V1403h-0.5ZM468.6,1337.3h0.5V1403h-0.5ZM469.1,1337.2h0.5V1403h-0.5ZM469.6,1335.66h0.5V1403h-0.5ZM470.1,1334.43h0.5V1403h-0.5ZM470.6,1333.93h0.5V1403h-0.5ZM471.1,1340.1h0.5V1403h-0.5ZM471.6,1334.91h0.5V1403h-0.5ZM472.1,1343.72h0.5V1403h-0.5ZM472.6,1338.07h0.5V1403h-0.5ZM473.1,1339.81h0.5V1403h-0.5ZM473.6,1342.21h0.5V1403h-0.5ZM474.1,1339.68h0.5V1403h-0.5ZM474.6,1340.11h0.5V1403h-0.5ZM475.1,1346.58h0.5V1403h-0.5ZM475.6,1344.89h0.5V1403h-0.5ZM476.1,1343.79h0.5V1403h-0.5ZM476.6,1342.56h0.5V1403h-0.5ZM477.1,1348.48h0.5V1403h-0.5ZM477.6,1350.94h0.5V1403h-0.5ZM478.1,1347.69h0.5V1403h-0.5ZM478.6,1348.27h0.5V1403h-0.5ZM479.1,1341.96h0.5V1403h-0.5ZM479.6,1345.1h0.5V1403h-0.5ZM480.1,1341.56h0.5V1403h-0.5ZM480.6,1344.82h0.5V1403h-0.5ZM481.1,1345.8h0.5V1403h-0.5ZM481.6,1345.13h0.5V1403h-0.5ZM482.1,1346.75h0.5V1403h-0.5ZM482.6,1356.6h0.5V1403h-0.5ZM483.1,1349.35h0.5V1403h-0.5ZM483.6,1351.54h0.5V1403h-0.5ZM484.1,1350.93h0.5V1403h-0.5ZM484.6,1346.47h0.5V1403h-0.5ZM485.1,1345.59h0.5V1403h-0.5ZM485.6,1344.25h0.5V1403h-0.5ZM486.1,1331.28h0.5V1403h-0.5ZM486.6,1329.55h0.5V1403h-0.5ZM487.1,1321.49h0.5V1403h-0.5ZM487.6,1318.47h0.5V1403h-0.5ZM488.1,1314.42h0.5V1403h-0.5ZM488.6,1310.77h0.5V1403h-0.5ZM489.1,1308.03h0.5V1403h-0.5ZM489.6,1304.19h0.5V1403h-0.5ZM490.1,1307.18h0.5V1403h-0.5ZM490.6,1292.28h0.5V1403h-0.5ZM491.1,1285.41h0.5V1403h-0.5ZM491.6,1292.36h0.5V1403h-0.5ZM492.1,1302.48h0.5V1403h-0.5ZM492.6,1300.57h0.5V1403h-0.5ZM493.1,1301.59h0.5V1403h-0.5ZM493.6,1304.42h0.5V1403h-0.5ZM494.1,1306.83h0.5V1403h-0.5ZM494.6,1310.73h0.5V1403h-0.5ZM495.1,1313.08h0.5V1403h-0.5ZM495.6,1316.86h0.5V1403h-0.5ZM496.1,1320.28h0.5V1403h-0.5ZM496.6,1325.79h0.5V1403h-0.5ZM497.1,1332.63h0.5V1403h-0.5ZM497.6,1333.27h0.5V1403h-0.5ZM498.1,1332.41h0.5V1403h-0.5ZM498.6,1335.09h0.5V1403h-0.5ZM499.1,1339.36h0.5V1403h-0.5ZM499.6,1341.5h0.5V1403h-0.5ZM500.1,1344.58h0.5V1403h-0.5ZM500.6,1346.92h0.5V1403h-0.5ZM501.1,1348.97h0.5V1403h-0.5ZM501.6,1357.7h0.5V1403h-0.5ZM502.1,1350.42h0.5V1403h-0.5ZM502.6,1353.56h0.5V1403h-0.5ZM503.1,1355.63h0.5V1403h-0.5ZM503.6,1359.43h0.5V1403h-0.5ZM504.1,1353.81h0.5V1403h-0.5ZM504.6,1353.45h0.5V1403h-0.5ZM505.1,1349.84h0.5V1403h-0.5ZM505.6,1347.23h0.5V1403h-0.5ZM506.1,1347.58h0.5V1403h-0.5ZM506.6,1355.21h0.5V1403h-0.5ZM507.1,1357h0.5V1403h-0.5ZM507.6,1360.87h0.5V1403h-0.5ZM508.1,1353.95h0.5V1403h-0.5ZM508.6,1353.7h0.5V1403h-0.5ZM509.1,1357.97h0.5V1403h-0.5ZM509.6,1360.41h0.5V1403h-0.5ZM510.1,1354.42h0.5V1403h-0.5ZM510.6,1353.51h0.5V1403h-0.5ZM511.1,1348.41h0.5V1403h-0.5ZM511.6,1347.79h0.5V1403h-0.5ZM512.1,1352.34h0.5V1403h-0.5ZM512.6,1350.41h0.5V1403h-0.5ZM513.1,1350.53h0.5V1403h-0.5ZM513.6,1352.12h0.5V1403h-0.5ZM514.1,1343.83h0.5V1403h-0.5ZM514.6,1342.9h0.5V1403h-0.5ZM515.1,1342.5h0.5V1403h-0.5ZM515.6,1344.24h0.5V1403h-0.5ZM516.1,1345.48h0.5V1403h-0.5ZM516.6,1348.77h0.5V1403h-0.5ZM517.1,1344.89h0.5V1403h-0.5ZM517.6,1343.22h0.5V1403h-0.5ZM518.1,1343.96h0.5V1403h-0.5ZM518.6,1339.83h0.5V1403h-0.5ZM519.1,1339.94h0.5V1403h-0.5ZM519.6,1336.46h0.5V1403h-0.5ZM520.1,1341.53h0.5V1403h-0.5ZM520.6,1336.18h0.5V1403h-0.5ZM521.1,1342.97h0.5V1403h-0.5ZM521.6,1338.77h0.5V1403h-0.5ZM522.1,1335.85h0.5V1403h-0.5ZM522.6,1335.83h0.5V1403h-0.5ZM523.1,1337.59h0.5V1403h-0.5ZM523.6,1342h0.5V1403h-0.5ZM524.1,1344.08h0.5V1403h-0.5ZM524.6,1341.13h0.5V1403h-0.5ZM525.1,1342.4h0.5V1403h-0.5ZM525.6,1346.16h0.5V1403h-0.5ZM526.1,1348.08h0.5V1403h-0.5ZM526.6,1347.71h0.5V1403h-0.5ZM527.1,1348.14h0.5V1403h-0.5ZM527.6,1352.27h0.5V1403h-0.5ZM528.1,1350.35h0.5V1403h-0.5ZM528.6,1351.4h0.5V1403h-0.5ZM529.1,1351.49h0.5V1403h-0.5ZM529.6,1356.86h0.5V1403h-0.5ZM530.1,1351.32h0.5V1403h-0.5ZM530.6,1353.61h0.5V1403h-0.5ZM531.1,1347.61h0.5V1403h-0.5ZM531.6,1345.08h0.5V1403h-0.5ZM532.1,1344.13h0.5V1403h-0.5ZM532.6,1350.89h0.5V1403h-0.5ZM533.1,1346.05h0.5V1403h-0.5ZM533.6,1341.43h0.5V1403h-0.5ZM534.1,1336.63h0.5V1403h-0.5ZM534.6,1334.52h0.5V1403h-0.5ZM535.1,1332.05h0.5V1403h-0.5ZM535.6,1325.21h0.5V1403h-0.5ZM536.1,1321.17h0.5V1403h-0.5ZM536.6,1322.09h0.5V1403h-0.5ZM537.1,1323.28h0.5V1403h-0.5ZM537.6,1301.46h0.5V1403h-0.5ZM538.1,1285.3h0.5V1403h-0.5ZM538.6,1286.31h0.5V1403h-0.5ZM539.1,1299.49h0.5V1403h-0.5ZM539.6,1315.84h0.5V1403h-0.5ZM540.1,1315.96h0.5V1403h-0.5ZM540.6,1321.66h0.5V1403h-0.5ZM541.1,1321.19h0.5V1403h-0.5ZM541.6,1318.9h0.5V1403h-0.5ZM542.1,1318.23h0.5V1403h-0.5ZM542.6,1328.32h0.5V1403h-0.5ZM543.1,1322.72h0.5V1403h-0.5ZM543.6,1329.9h0.5V1403h-0.5ZM544.1,1327.17h0.5V1403h-0.5ZM544.6,1331.47h0.5V1403h-0.5ZM545.1,1340.57h0.5V1403h-0.5ZM545.6,1340.48h0.5V1403h-0.5ZM546.1,1351.83h0.5V1403h-0.5ZM546.6,1348.22h0.5V1403h-0.5ZM547.1,1348.66h0.5V1403h-0.5ZM547.6,1351.12h0.5V1403h-0.5ZM548.1,1354.57h0.5V1403h-0.5ZM548.6,1358.25h0.5V1403h-0.5ZM549.1,1363.61h0.5V1403h-0.5ZM549.6,1356.96h0.5V1403h-0.5ZM550.1,1359.41h0.5V1403h-0.5ZM550.6,1359.67h0.5V1403h-0.5ZM551.1,1368.74h0.5V1403h-0.5ZM551.6,1360.88h0.5V1403h-0.5ZM552.1,1361.23h0.5V1403h-0.5ZM552.6,1361.73h0.5V1403h-0.5ZM553.1,1363.59h0.5V1403h-0.5ZM553.6,1369.96h0.5V1403h-0.5ZM554.1,1370.23h0.5V1403h-0.5ZM554.6,1368.53h0.5V1403h-0.5ZM555.1,1373.16h0.5V1403h-0.5ZM555.6,1372.51h0.5V1403h-0.5ZM556.1,1366.18h0.5V1403h-0.5ZM556.6,1364.94h0.5V1403h-0.5ZM557.1,1371.76h0.5V1403h-0.5ZM557.6,1368.14h0.5V1403h-0.5ZM558.1,1362.39h0.5V1403h-0.5ZM558.6,1365.6h0.5V1403h-0.5ZM559.1,1362.17h0.5V1403h-0.5ZM559.6,1361.39h0.5V1403h-0.5ZM560.1,1360.37h0.5V1403h-0.5ZM560.6,1358.89h0.5V1403h-0.5ZM561.1,1357.88h0.5V1403h-0.5ZM561.6,1357.93h0.5V1403h-0.5ZM562.1,1358.34h0.5V1403h-0.5ZM562.6,1365.7h0.5V1403h-0.5ZM563.1,1357.87h0.5V1403h-0.5ZM563.6,1366.35h0.5V1403h-0.5ZM564.1,1358.62h0.5V1403h-0.5ZM564.6,1359.61h0.5V1403h-0.5ZM565.1,1364.29h0.5V1403h-0.5ZM565.6,1364.05h0.5V1403h-0.5ZM566.1,1359.4h0.5V1403h-0.5ZM566.6,1357.49h0.5V1403h-0.5ZM567.1,1359.24h0.5V1403h-0.5ZM567.6,1358.33h0.5V1403h-0.5ZM568.1,1364.49h0.5V1403h-0.5ZM568.6,1357.02h0.5V1403h-0.5ZM569.1,1357.67h0.5V1403h-0.5ZM569.6,1363.52h0.5V1403h-0.5ZM570.1,1356.09h0.5V1403h-0.5ZM570.6,1357.4h0.5V1403h-0.5ZM571.1,1361.81h0.5V1403h-0.5ZM571.6,1361.62h0.5V1403h-0.5ZM572.1,1357.14h0.5V1403h-0.5ZM572.6,1357.94h0.5V1403h-0.5ZM573.1,1358.76h0.5V1403h-0.5ZM573.6,1367.15h0.5V1403h-0.5ZM574.1,1360.92h0.5V1403h-0.5ZM574.6,1366.15h0.5V1403h-0.5ZM575.1,1369.16h0.5V1403h-0.5ZM575.6,1363.68h0.5V1403h-0.5ZM576.1,1364.06h0.5V1403h-0.5ZM576.6,1372.4h0.5V1403h-0.5ZM577.1,1368.32h0.5V1403h-0.5ZM577.6,1364.55h0.5V1403h-0.5ZM578.1,1367.05h0.5V1403h-0.5ZM578.6,1361.83h0.5V1403h-0.5ZM579.1,1360.11h0.5V1403h-0.5ZM579.6,1357.93h0.5V1403h-0.5ZM580.1,1362.73h0.5V1403h-0.5ZM580.6,1365.15h0.5V1403h-0.5ZM581.1,1361.96h0.5V1403h-0.5ZM581.6,1367.1h0.5V1403h-0.5ZM582.1,1359.85h0.5V1403h-0.5ZM582.6,1361.08h0.5V1403h-0.5ZM583.1,1362.25h0.5V1403h-0.5ZM583.6,1367.21h0.5V1403h-0.5ZM584.1,1365.91h0.5V1403h-0.5ZM584.6,1357.81h0.5V1403h-0.5ZM585.1,1355.78h0.5V1403h-0.5ZM585.6,1355.84h0.5V1403h-0.5ZM586.1,1355.7h0.5V1403h-0.5ZM586.6,1360.6h0.5V1403h-0.5ZM587.1,1352.48h0.5V1403h-0.5ZM587.6,1357.48h0.5V1403h-0.5ZM588.1,1356.59h0.5V1403h-0.5ZM588.6,1358.11h0.5V1403h-0.5ZM589.1,1357.73h0.5V1403h-0.5ZM589.6,1356h0.5V1403h-0.5ZM590.1,1352.01h0.5V1403h-0.5ZM590.6,1349.96h0.5V1403h-0.5ZM591.1,1348.22h0.5V1403h-0.5ZM591.6,1350.55h0.5V1403h-0.5ZM592.1,1345.1h0.5V1403h-0.5ZM592.6,1348.63h0.5V1403h-0.5ZM593.1,1357.88h0.5V1403h-0.5ZM593.6,1357.77h0.5V1403h-0.5ZM594.1,1357.92h0.5V1403h-0.5ZM594.6,1358.56h0.5V1403h-0.5ZM595.1,1361.96h0.5V1403h-0.5ZM595.6,1360.84h0.5V1403h-0.5ZM596.1,1370.31h0.5V1403h-0.5ZM596.6,1370.69h0.5V1403h-0.5ZM597.1,1374.44h0.5V1403h-0.5ZM597.6,1368.29h0.5V1403h-0.5ZM598.1,1368.86h0.5V1403h-0.5ZM598.6,1369.55h0.5V1403h-0.5ZM599.1,1372.36h0.5V1403h-0.5ZM599.6,1375.33h0.5V1403h-0.5ZM600.1,1372.58h0.5V1403h-0.5ZM600.6,1371.03h0.5V1403h-0.5ZM601.1,1371.85h0.5V1403h-0.5ZM601.6,1373.5h0.5V1403h-0.5ZM602.1,1373.88h0.5V1403h-0.5ZM602.6,1374.82h0.5V1403h-0.5ZM603.1,1376.36h0.5V1403h-0.5ZM603.6,1374.04h0.5V1403h-0.5ZM604.1,1370.37h0.5V1403h-0.5ZM604.6,1376.77h0.5V1403h-0.5ZM605.1,1371.35h0.5V1403h-0.5ZM605.6,1373.63h0.5V1403h-0.5ZM606.1,1372.16h0.5V1403h-0.5ZM606.6,1375.8h0.5V1403h-0.5ZM607.1,1370.75h0.5V1403h-0.5ZM607.6,1370.44h0.5V1403h-0.5ZM608.1,1369.93h0.5V1403h-0.5ZM608.6,1369.1h0.5V1403h-0.5ZM609.1,1375.43h0.5V1403h-0.5ZM609.6,1370.9h0.5V1403h-0.5ZM610.1,1368.35h0.5V1403h-0.5ZM610.6,1368.4h0.5V1403h-0.5ZM611.1,1375.86h0.5V1403h-0.5ZM611.6,1369.48h0.5V1403h-0.5ZM612.1,1367.81h0.5V1403h-0.5ZM612.6,1373.38h0.5V1403h-0.5ZM613.1,1371.5h0.5V1403h-0.5ZM613.6,1376.66h0.5V1403h-0.5ZM614.1,1368.09h0.5V1403h-0.5ZM614.6,1370.19h0.5V1403h-0.5ZM615.1,1373.81h0.5V1403h-0.5ZM615.6,1373.39h0.5V1403h-0.5ZM616.1,1373.8h0.5V1403h-0.5ZM616.6,1365.54h0.5V1403h-0.5ZM617.1,1365.55h0.5V1403h-0.5ZM617.6,1364.41h0.5V1403h-0.5ZM618.1,1364.6h0.5V1403h-0.5ZM618.6,1373.3h0.5V1403h-0.5ZM619.1,1368.34h0.5V1403h-0.5ZM619.6,1373.57h0.5V1403h-0.5ZM620.1,1367.53h0.5V1403h-0.5ZM620.6,1373.53h0.5V1403h-0.5ZM621.1,1369.1h0.5V1403h-0.5ZM621.6,1368.39h0.5V1403h-0.5ZM622.1,1373.72h0.5V1403h-0.5ZM622.6,1376.83h0.5V1403h-0.5ZM623.1,1369.38h0.5V1403h-0.5ZM623.6,1372.97h0.5V1403h-0.5ZM624.1,1373.48h0.5V1403h-0.5ZM624.6,1370.69h0.5V1403h-0.5ZM625.1,1371.74h0.5V1403h-0.5ZM625.6,1370.95h0.5V1403h-0.5ZM626.1,1371.06h0.5V1403h-0.5ZM626.6,1370.27h0.5V1403h-0.5ZM627.1,1371.92h0.5V1403h-0.5ZM627.6,1371.51h0.5V1403h-0.5ZM628.1,1367.06h0.5V1403h-0.5ZM628.6,1365.69h0.5V1403h-0.5ZM629.1,1365.21h0.5V1403h-0.5ZM629.6,1366.88h0.5V1403h-0.5ZM630.1,1361.55h0.5V1403h-0.5ZM630.6,1360.62h0.5V1403h-0.5ZM631.1,1358.61h0.5V1403h-0.5ZM631.6,1362.9h0.5V1403h-0.5ZM632.1,1359.91h0.5V1403h-0.5ZM632.6,1357.24h0.5V1403h-0.5ZM633.1,1357.3h0.5V1403h-0.5ZM633.6,1358.61h0.5V1403h-0.5ZM634.1,1359.98h0.5V1403h-0.5ZM634.6,1361.18h0.5V1403h-0.5ZM635.1,1357.83h0.5V1403h-0.5ZM635.6,1358.25h0.5V1403h-0.5ZM636.1,1362.61h0.5V1403h-0.5ZM636.6,1359.65h0.5V1403h-0.5ZM637.1,1358.11h0.5V1403h-0.5ZM637.6,1357.49h0.5V1403h-0.5ZM638.1,1364.06h0.5V1403h-0.5ZM638.6,1356.01h0.5V1403h-0.5ZM639.1,1357.3h0.5V1403h-0.5ZM639.6,1355.56h0.5V1403h-0.5ZM640.1,1355.98h0.5V1403h-0.5ZM640.6,1361.14h0.5V1403h-0.5ZM641.1,1363.35h0.5V1403h-0.5ZM641.6,1355.61h0.5V1403h-0.5ZM642.1,1354.77h0.5V1403h-0.5ZM642.6,1360.27h0.5V1403h-0.5ZM643.1,1358.2h0.5V1403h-0.5ZM643.6,1360.16h0.5V1403h-0.5ZM644.1,1369.81h0.5V1403h-0.5ZM644.6,1366.17h0.5V1403h-0.5ZM645.1,1371.94h0.5V1403h-0.5ZM645.6,1368.7h0.5V1403h-0.5ZM646.1,1375.57h0.5V1403h-0.5ZM646.6,1371.69h0.5V1403h-0.5ZM647.1,1370.27h0.5V1403h-0.5ZM647.6,1370.28h0.5V1403h-0.5ZM648.1,1373.27h0.5V1403h-0.5ZM648.6,1374.48h0.5V1403h-0.5ZM649.1,1378.48h0.5V1403h-0.5ZM649.6,1371.35h0.5V1403h-0.5ZM650.1,1375.02h0.5V1403h-0.5ZM650.6,1373.02h0.5V1403h-0.5ZM651.1,1374.32h0.5V1403h-0.5ZM651.6,1372.47h0.5V1403h-0.5ZM652.1,1373.25h0.5V1403h-0.5ZM652.6,1375.23h0.5V1403h-0.5ZM653.1,1380.74h0.5V1403h-0.5ZM653.6,1373.39h0.5V1403h-0.5ZM654.1,1375.7h0.5V1403h-0.5ZM654.6,1379.61h0.5V1403h-0.5ZM655.1,1382.44h0.5V1403h-0.5ZM655.6,1374.63h0.5V1403h-0.5ZM656.1,1374.68h0.5V1403h-0.5ZM656.6,1382.79h0.5V1403h-0.5ZM657.1,1383.6h0.5V1403h-0.5ZM657.6,1376.65h0.5V1403h-0.5ZM658.1,1373.58h0.5V1403h-0.5ZM658.6,1380.28h0.5V1403h-0.5ZM659.1,1372.91h0.5V1403h-0.5ZM659.6,1377.52h0.5V1403h-0.5ZM660.1,1371.96h0.5V1403h-0.5ZM660.6,1372.94h0.5V1403h-0.5ZM661.1,1365.39h0.5V1403h-0.5ZM661.6,1369.94h0.5V1403h-0.5ZM662.1,1364.83h0.5V1403h-0.5ZM662.6,1366.36h0.5V1403h-0.5ZM663.1,1371.83h0.5V1403h-0.5ZM663.6,1372.07h0.5V1403h-0.5ZM664.1,1366.69h0.5V1403h-0.5ZM664.6,1367.19h0.5V1403h-0.5ZM665.1,1367.95h0.5V1403h-0.5ZM665.6,1368.67h0.5V1403h-0.5ZM666.1,1367.33h0.5V1403h-0.5ZM666.6,1365.9h0.5V1403h-0.5ZM667.1,1366.12h0.5V1403h-0.5ZM667.6,1370.3h0.5V1403h-0.5ZM668.1,1372.82h0.5V1403h-0.5ZM668.6,1365.59h0.5V1403h-0.5ZM669.1,1368.42h0.5V1403h-0.5ZM669.6,1370.74h0.5V1403h-0.5ZM670.1,1365.59h0.5V1403h-0.5ZM670.6,1372.57h0.5V1403h-0.5ZM671.1,1367.37h0.5V1403h-0.5ZM671.6,1371.48h0.5V1403h-0.5ZM672.1,1371.97h0.5V1403h-0.5ZM672.6,1373.79h0.5V1403h-0.5ZM673.1,1372.04h0.5V1403h-0.5ZM673.6,1373.29h0.5V1403h-0.5ZM674.1,1375.26h0.5V1403h-0.5ZM674.6,1374.33h0.5V1403h-0.5ZM675.1,1377.11h0.5V1403h-0.5ZM675.6,1375.22h0.5V1403h-0.5ZM676.1,1374.15h0.5V1403h-0.5ZM676.6,1371.43h0.5V1403h-0.5ZM677.1,1373.87h0.5V1403h-0.5ZM677.6,1371.58h0.5V1403h-0.5ZM678.1,1368.92h0.5V1403h-0.5ZM678.6,1372.44h0.5V1403h-0.5ZM679.1,1371.41h0.5V1403h-0.5ZM679.6,1366.58h0.5V1403h-0.5ZM680.1,1363.73h0.5V1403h-0.5ZM680.6,1364.2h0.5V1403h-0.5ZM681.1,1361.58h0.5V1403h-0.5ZM681.6,1361.63h0.5V1403h-0.5ZM682.1,1363.4h0.5V1403h-0.5ZM682.6,1362.05h0.5V1403h-0.5ZM683.1,1363.99h0.5V1403h-0.5ZM683.6,1364.82h0.5V1403h-0.5ZM684.1,1362.41h0.5V1403h-0.5ZM684.6,1365.54h0.5V1403h-0.5ZM685.1,1361.45h0.5V1403h-0.5ZM685.6,1365.73h0.5V1403h-0.5ZM686.1,1365.84h0.5V1403h-0.5ZM686.6,1362.65h0.5V1403h-0.5ZM687.1,1360.33h0.5V1403h-0.5ZM687.6,1364.08h0.5V1403h-0.5ZM688.1,1364.58h0.5V1403h-0.5ZM688.6,1372.94h0.5V1403h-0.5ZM689.1,1366.47h0.5V1403h-0.5ZM689.6,1374.41h0.5V1403h-0.5ZM690.1,1377.29h0.5V1403h-0.5ZM690.6,1373.19h0.5V1403h-0.5ZM691.1,1374.34h0.5V1403h-0.5ZM691.6,1368.7h0.5V1403h-0.5ZM692.1,1377.04h0.5V1403h-0.5ZM692.6,1370.56h0.5V1403h-0.5ZM693.1,1377.12h0.5V1403h-0.5ZM693.6,1376.94h0.5V1403h-0.5ZM694.1,1370.13h0.5V1403h-0.5ZM694.6,1375.98h0.5V1403h-0.5ZM695.1,1378.68h0.5V1403h-0.5ZM695.6,1371.66h0.5V1403h-0.5ZM696.1,1373.73h0.5V1403h-0.5ZM696.6,1378.76h0.5V1403h-0.5ZM697.1,1374.85h0.5V1403h-0.5ZM697.6,1382.85h0.5V1403h-0.5ZM698.1,1377.3h0.5V1403h-0.5ZM698.6,1383.16h0.5V1403h-0.5ZM699.1,1377.86h0.5V1403h-0.5ZM699.6,1380.44h0.5V1403h-0.5ZM700.1,1386.29h0.5V1403h-0.5ZM700.6,1379.57h0.5V1403h-0.5ZM701.1,1378.83h0.5V1403h-0.5ZM701.6,1379.52h0.5V1403h-0.5ZM702.1,1377.13h0.5V1403h-0.5ZM702.6,1375.41h0.5V1403h-0.5ZM703.1,1375.7h0.5V1403h-0.5ZM703.6,1376.13h0.5V1403h-0.5ZM704.1,1384.29h0.3V1403h-0.3Z" fill="#000"/>
<line x1="169" y1="1162.9" x2="169" y2="1403" />
<line x1="159" y1="1403" x2="169" y2="1403" />
<line x1="159" y1="1355" x2="169" y2="1355" />
<line x1="159" y1="1259" x2="169" y2="1259" />
<line x1="159" y1="1162.9" x2="169" y2="1162.9" />
<text class="n" transform="translate(148.8,1409.88) scale(1.15,1) rotate(-90)">0</text>
<text class="n" transform="translate(148.8,1368.92) scale(1.15,1) rotate(-90)">50</text>
<text class="n" transform="translate(148.8,1280.33) scale(1.15,1) rotate(-90)">150</text>
<text class="n" transform="translate(148.8,1183.9) scale(1.15,1) rotate(-90)">250</text>
<line x1="187.7" y1="1413" x2="685" y2="1413" />
<line x1="188.7" y1="1413" x2="188.7" y2="1421" />
<line x1="436.9" y1="1413" x2="436.9" y2="1421" />
<line x1="685" y1="1413" x2="685" y2="1421" />
<text class="n" transform="translate(180.68,1440.4) scale(1.15,1)">0</text>
<text class="n" transform="translate(404.76,1440.4) scale(1.15,1)">2000</text>
<text class="n" transform="translate(653.26,1440.4) scale(1.15,1)">4000</text>
<text class="s" style="font-size:29.4px" x="343.75" y="1472.3">array length [bp]</text>
<ellipse cx="238.4" cy="1211" rx="6.8" ry="6.05" fill="#19e619"/>
<ellipse cx="275.3" cy="1220.7" rx="6.8" ry="6.05" fill="#19e619"/>
<ellipse cx="331" cy="1239.7" rx="6.8" ry="6.05" fill="#19e619"/>
<ellipse cx="380.6" cy="1287.8" rx="6.8" ry="6.05" fill="#19e619"/>
<ellipse cx="424.1" cy="1316.4" rx="6.8" ry="6.05" fill="#19e619"/>
<ellipse cx="473.7" cy="1316.4" rx="6.8" ry="6.05" fill="#19e619"/>
<ellipse cx="517.4" cy="1316.4" rx="6.8" ry="6.05" fill="#19e619"/>
<ellipse cx="585.6" cy="1335.5" rx="6.8" ry="6.05" fill="#19e619"/>
<ellipse cx="254.4" cy="1220.7" rx="6.8" ry="6.05" fill="#f50a0a"/>
<ellipse cx="300.2" cy="1163" rx="6.8" ry="6.05" fill="#f50a0a"/>
<ellipse cx="349.7" cy="1163" rx="6.8" ry="6.05" fill="#f50a0a"/>
<ellipse cx="399.4" cy="1249.3" rx="6.8" ry="6.05" fill="#f50a0a"/>
<ellipse cx="442.9" cy="1249.3" rx="6.8" ry="6.05" fill="#f50a0a"/>
<ellipse cx="492.3" cy="1258.8" rx="6.8" ry="6.05" fill="#f50a0a"/>
<ellipse cx="538.3" cy="1258.8" rx="6.8" ry="6.05" fill="#f50a0a"/>
<circle cx="489.5" cy="1180" r="8" fill="#19e619"/>
<circle cx="489.5" cy="1204.5" r="8" fill="#e84545"/>
<text class="s" style="font-size:29.4px" x="502.8" y="1186.6">n*monomer</text>
<text class="s" style="font-size:29.4px" x="502.8" y="1210.7">n*monomer+120</text>
<text class="s" style="font-size:29.4px" x="8.8" y="1530.1">E</text>
<text class="s" style="font-size:29.4px" x="397.55" y="1529.3">SSR</text>
<text class="s" style="font-size:29.4px" transform="translate(87.9,1754) rotate(-90)">number of arrays</text>
<path d="M186.5,1776.9 L186.5,1735.6 L187.7,1733.2 L189,1734 L189.4,1748.1 L190.7,1754.8 L191.9,1759.8 L192.3,1761.4 L192.7,1672.4 L193.6,1668.3 L194.4,1664.1 L195.2,1671.6 L196.5,1684.9 L197.7,1693.2 L198.6,1695.7 L199.4,1689.9 L200.6,1690.7 L201.9,1688.2 L203.1,1681.6 L204.4,1674.9 L205.6,1669.1 L207.3,1661.6 L209,1658.3 L210.6,1652.5 L212.3,1649.1 L213.5,1646.6 L213.9,1636.6 L214.3,1636.6 L214.6,1650 L215.6,1666.6 L216.9,1674.9 L218.1,1684.9 L218.9,1691.5 L220.6,1698.2 L222.3,1702.3 L223.9,1707.3 L225.6,1711.5 L227.3,1716.5 L228.9,1721.4 L230.6,1726.4 L232.7,1731.3 L235.4,1739.5 L238.2,1746.3 L240.9,1750.4 L243.6,1753.1 L247.7,1754.5 L251.8,1754.5 L257.2,1753.8 L261.3,1755.2 L265.4,1757.9 L270.9,1762 L276.3,1764.7 L281.8,1766.8 L287.2,1768.8 L292.7,1770.2 L298.1,1771.5 L303.6,1772.9 L311.7,1773.6 L318.6,1774.3 L330,1774.7 L349.2,1775.4 L366.2,1775.6 L420,1775.6 L677,1775.7 L677,1776.9 Z" fill="#000"/>
<rect x="677" y="1775.5" width="23" height="1.4" fill="#999"/>
<rect x="186.3" y="1527.8" width="1.3" height="210" fill="#666"/>
<line x1="167" y1="1538.7" x2="167" y2="1777" />
<line x1="157" y1="1777" x2="167" y2="1777" />
<line x1="157" y1="1696.9" x2="167" y2="1696.9" />
<line x1="157" y1="1538.7" x2="167" y2="1538.7" />
<text class="n" transform="translate(146.8,1783.57) scale(1.15,1) rotate(-90)">0</text>
<text class="n" transform="translate(146.8,1717.78) scale(1.15,1) rotate(-90)">500</text>
<text class="n" transform="translate(146.8,1566.98) scale(1.15,1) rotate(-90)">1500</text>
<line x1="185.5" y1="1787" x2="682" y2="1787" />
<line x1="186.5" y1="1787" x2="186.5" y2="1795" />
<line x1="434.2" y1="1787" x2="434.2" y2="1795" />
<line x1="682" y1="1787" x2="682" y2="1795" />
<text class="n" transform="translate(178.48,1814.4) scale(1.15,1)">0</text>
<text class="n" transform="translate(402.06,1814.4) scale(1.15,1)">2000</text>
<text class="n" transform="translate(650.26,1814.4) scale(1.15,1)">4000</text>
<text class="s" style="font-size:29.4px" x="343.75" y="1847.4">array length [bp]</text>
</svg></body></html>
